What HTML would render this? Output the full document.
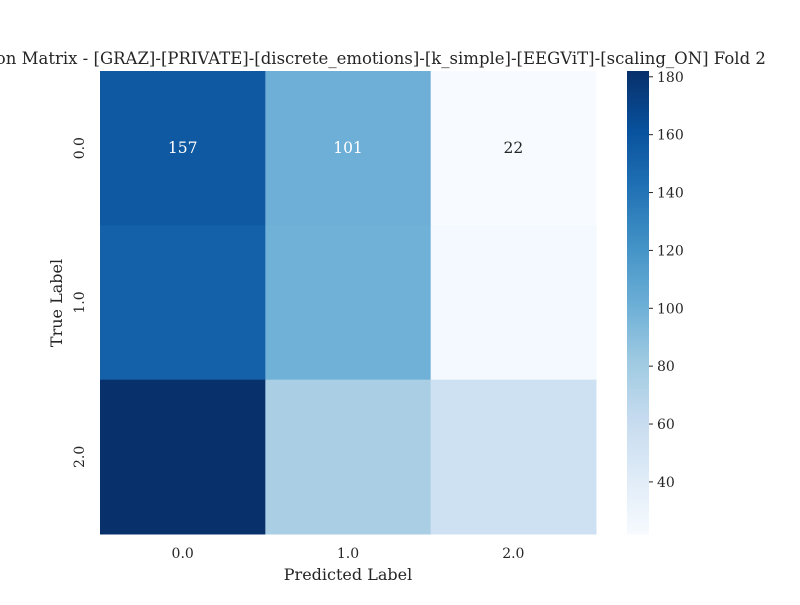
<!DOCTYPE html>
<html><head><meta charset="utf-8"><style>
body{margin:0;background:#fff}
svg text{font-family:"DejaVu Serif","Liberation Serif",serif;fill:#262626}
</style></head><body>
<svg id="c" width="800" height="600" xmlns="http://www.w3.org/2000/svg"></svg>
<script>
const rowLabels=["0.0","1.0","2.0"];
const colLabels=["0.0","1.0","2.0"];
const row0=[157,101,22];
const row1=[152,100,25];
const row2=[182,76,55];
const annotatedRows=[true,false,false];
const cbTicks=[40,60,80,100,120,140,160,180];
const vmin=22,vmax=182;
const values=[row0,row1,row2];
const NS="http://www.w3.org/2000/svg";
const svg=document.getElementById('c');
const X0=100,X1=596,Y0=71,Y1=534;
const cw=(X1-X0)/3,ch=(Y1-Y0)/3;
const stops=["#f7fbff","#deebf7","#c6dbef","#9ecae1","#6baed6","#4292c6","#2171b5","#08519c","#08306b"];
function hex(h){return[1,3,5].map(i=>parseInt(h.substr(i,2),16));}
function cmap(v){let t=Math.max(0,Math.min(1,(v-vmin)/(vmax-vmin)))*(stops.length-1);let i=Math.min(Math.floor(t),stops.length-2),f=t-i;const a=hex(stops[i]),b=hex(stops[i+1]);return`rgb(${a.map((x,k)=>Math.round(x+(b[k]-x)*f)).join(',')})`;}
function lum(v){const c=cmap(v).match(/\d+/g).map(Number);return 0.299*c[0]+0.587*c[1]+0.114*c[2];}
function el(t,a,txt){const e=document.createElementNS(NS,t);for(const k in a)e.setAttribute(k,a[k]);if(txt!==undefined)e.textContent=txt;svg.appendChild(e);return e;}
const xs=i=>X0+i*cw, ys=i=>Y0+i*ch;
values.forEach((row,r)=>row.forEach((v,c)=>{
 const e=el('rect',{x:xs(c),y:ys(r),width:cw+0.5,height:ch+0.5,fill:cmap(v)});
 
 
 if(annotatedRows[r]){const t=el('text',{x:xs(c)+cw/2,y:ys(r)+ch/2+5,'text-anchor':'middle','font-size':15.5,style:'fill:'+(lum(v)<200?'#fff':'#262626')},v);
 
 }
}));
colLabels.forEach((l,i)=>{const t=el('text',{x:xs(i)+cw/2,y:558,'text-anchor':'middle','font-size':14},l);
 
 });
rowLabels.forEach((l,i)=>{const y=ys(i)+ch/2,x=84;const t=el('text',{x:x,y:y,'text-anchor':'middle','font-size':14,transform:`rotate(-90 ${x} ${y})`},l);
 
 });
let t=el('text',{x:348,y:580,'text-anchor':'middle','font-size':16},'Predicted Label');

t=el('text',{x:62,y:303,'text-anchor':'middle','font-size':16,transform:'rotate(-90 62 303)'},'True Label');

t=el('text',{x:349,y:64,'text-anchor':'middle','font-size':16.5},'Confusion Matrix - [GRAZ]-[PRIVATE]-[discrete_emotions]-[k_simple]-[EEGViT]-[scaling_ON] Fold 2');

const CX=627,CW=22,CY0=71,CY1=534;
const cy=v=>CY1-(v-vmin)/(vmax-vmin)*(CY1-CY0);
for(let i=0;i<200;i++){const v0=vmin+(vmax-vmin)*i/200,v1=vmin+(vmax-vmin)*(i+1)/200;
 const r=el('rect',{x:CX,y:cy(v1),width:CW,height:cy(v0)-cy(v1)+0.6,fill:cmap((v0+v1)/2)});
 }
cbTicks.forEach(v=>{const y=cy(v);
 const l=el('line',{x1:CX+CW,x2:CX+CW+4,y1:y,y2:y,stroke:'#262626','stroke-width':1});
 
 const tt=el('text',{x:CX+CW+8,y:y+5,'font-size':14},v);
 });
</script>
</body></html>
